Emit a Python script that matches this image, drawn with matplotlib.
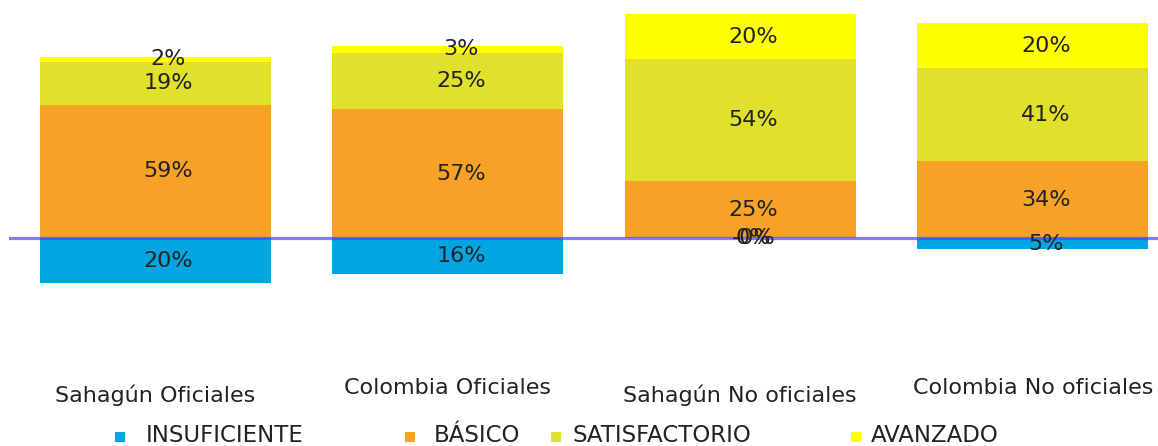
import numpy as np
import matplotlib
matplotlib.use("Agg")
import matplotlib.pyplot as plt
from matplotlib.patches import Rectangle

categories = ["Sahagún Oficiales", "Colombia Oficiales",
              "Sahagún No oficiales", "Colombia No oficiales"]
insuficiente = [20, 16, 0, 5]
basico = [59, 57, 25, 34]
satisfactorio = [19, 25, 54, 41]
avanzado = [2, 3, 20, 20]
series_names = ["INSUFICIENTE", "BÁSICO", "SATISFACTORIO", "AVANZADO"]

colors = ["#00a6e2", "#f7a126", "#dfe12c", "#ffff00"]

plt.rcParams["font.family"] = ["DejaVu Sans"]

fig = plt.figure(figsize=(11.58, 4.46), dpi=100)
ax = fig.add_axes([9/1158, 76/446, 1149/1158, 370/446])

x = np.arange(len(categories))
w = 0.79
ins = -np.array(insuficiente, dtype=float)
b = np.array(basico, dtype=float)
s = np.array(satisfactorio, dtype=float)
a = np.array(avanzado, dtype=float)

ax.bar(x, ins, w, color=colors[0])
ax.bar(x, b, w, color=colors[1])
ax.bar(x, s, w, bottom=b, color=colors[2])
ax.bar(x, a, w, bottom=b + s, color=colors[3])

fs = 16
tc = "#222222"
dx = 0.045  # labels sit a little right of the bar centre in the original
for i in range(len(x)):
    xt = x[i] + dx
    ax.text(xt, ins[i] / 2, f"{insuficiente[i]}%", ha="center", va="center", fontsize=fs, color=tc)
    ax.text(xt, b[i] / 2, f"{basico[i]}%", ha="center", va="center", fontsize=fs, color=tc)
    ax.text(xt, b[i] + s[i] / 2, f"{satisfactorio[i]}%", ha="center", va="center", fontsize=fs, color=tc)
    ax.text(xt, b[i] + s[i] + a[i] / 2, f"{avanzado[i]}%", ha="center", va="center", fontsize=fs, color=tc)
    if insuficiente[i] == 0:
        ax.text(xt, 0, "-0%", ha="center", va="center", fontsize=fs, color=tc)

ax.axhline(0, color="#4a4af0", lw=2.3, alpha=0.7)

ax.set_xlim(-0.5, 3.428)
ax.set_ylim(-58.4, 105.3)
ax.set_yticks([])
ax.set_xticks(x)
ax.set_xticklabels(categories, fontsize=16, color=tc)
ax.tick_params(axis="x", length=0)
for i, t in enumerate(ax.xaxis.get_major_ticks()):
    t.set_pad(10.5 if i % 2 == 0 else 5.5)
for sp in ax.spines.values():
    sp.set_visible(False)

# legend drawn by hand to keep the uneven spacing
leg_marker_x = [120, 410, 556, 856]
leg_text_x = [146, 434, 572, 871]
for i, name in enumerate(series_names):
    fig.add_artist(Rectangle(((leg_marker_x[i] - 5) / 1158, (446 - 442) / 446), 10 / 1158, 10 / 446,
                             transform=fig.transFigure, color=colors[i], lw=0))
    fig.text(leg_text_x[i] / 1158, (446 - 435) / 446, name, ha="left", va="center",
             fontsize=16.5, color=tc)

fig.savefig("out.png", dpi=100)
